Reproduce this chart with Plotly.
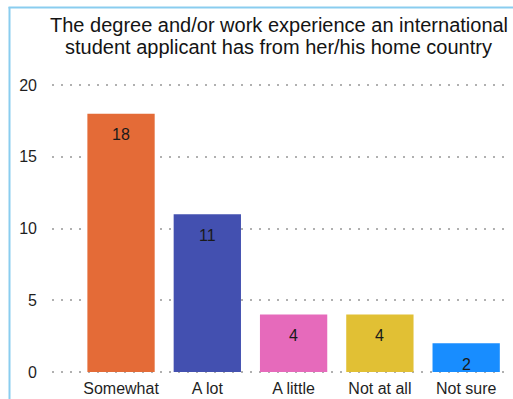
import plotly.graph_objects as go

categories = ["Somewhat", "A lot", "A little", "Not at all", "Not sure"]
counts = [18, 11, 4, 4, 2]
bar_colors = ["#E46B37", "#4350B0", "#E66ABB", "#E1C034", "#188DFF"]
y_ticks = [0, 5, 10, 15, 20]

title_lines = ["The degree and/or work experience an international",
               "student applicant has from her/his home country"]

W, H = 513, 399
L, R, T, B = 52, 8, 80, 22
pw, ph = W - L - R, H - T - B
y_range = [-0.35, 20.35]
FONT = "Liberation Sans, Arial, sans-serif"

def px_x(p):
    return (p - L) / pw

def px_y(p):
    return (H - B - p) / ph

fig = go.Figure(
    go.Bar(
        x=categories,
        y=counts,
        marker=dict(color=bar_colors, line=dict(width=0)),
        width=0.78,
        hoverinfo="skip",
    )
)

# value labels just inside the top of each bar
for cat, val in zip(categories, counts):
    fig.add_annotation(
        x=cat, y=val, xref="x", yref="y",
        text=str(val), showarrow=False,
        yanchor="middle", yshift=-21,
        font=dict(family=FONT, size=16, color="#1a1a1a"),
    )

# two-line title
for i, line in enumerate(title_lines):
    fig.add_annotation(
        x=0.5, xref="paper", xanchor="center",
        y=px_y(25 + 22 * i), yref="paper", yanchor="middle",
        text=line, showarrow=False,
        font=dict(family=FONT, size=20, color="#141414"),
    )

fig.update_layout(
    width=W,
    height=H,
    margin=dict(l=L, r=R, t=T, b=B, pad=0),
    paper_bgcolor="white",
    plot_bgcolor="white",
    showlegend=False,
    font=dict(family=FONT, color="#1f1f1f"),
    xaxis=dict(
        range=[-0.8, 4.45],
        showgrid=False,
        zeroline=False,
        showline=False,
        ticks="",
        tickfont=dict(size=16, color="#1f1f1f"),
        ticklabelstandoff=0,
        automargin=False,
    ),
    yaxis=dict(
        range=y_range,
        tickvals=y_ticks,
        showgrid=True,
        gridcolor="#b0b0b0",
        gridwidth=1.5,
        griddash="2px,7px",
        zeroline=False,
        showline=False,
        ticks="",
        tickfont=dict(size=16, color="#1f1f1f"),
        ticklabelstandoff=14,
        automargin=False,
    ),
    shapes=[
        dict(type="line", xref="paper", yref="paper",
             x0=px_x(9.5), x1=px_x(9.5), y0=px_y(7), y1=px_y(H + 5),
             line=dict(color="#8ACDEF", width=2)),
        dict(type="line", xref="paper", yref="paper",
             x0=px_x(8.5), x1=px_x(W + 5), y0=px_y(7.5), y1=px_y(7.5),
             line=dict(color="#8ACDEF", width=2)),
    ],
)

fig.write_html("out.html")
